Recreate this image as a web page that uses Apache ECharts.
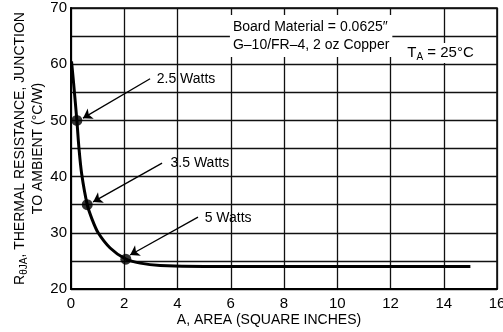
<!DOCTYPE html>
<html><head><meta charset="utf-8">
<script src="https://cdn.jsdelivr.net/npm/echarts@6/dist/echarts.min.js"></script>
<style>html,body{margin:0;padding:0;background:#fff}#c{width:503px;height:332px}</style>
</head><body><div id="c"></div>
<script>
// Curve: thermal resistance vs copper area
const areaX = [0.02, 0.1, 0.22, 0.3, 0.4, 0.61, 0.8, 1.02, 1.47, 2.06, 2.6, 3.35, 5, 8, 12, 15];
const rthY  = [60.5, 56.5, 50, 45, 40.5, 35, 32.3, 30, 27.3, 25.3, 24.6, 24.2, 24, 24, 24, 24];
// Marked points
const pointX = [0.22, 0.61, 2.06];
const pointY = [50, 35, 25.3];
const pointLabels = ['2.5 Watts', '3.5 Watts', '5 Watts'];
// Label anchor (left edge, middle) and arrow start positions in data units
const labelX = [3.2, 3.72, 5.0];
const labelY = [57.4, 42.4, 32.6];
const arrowStartX = [2.97, 3.42, 4.77];
const arrowStartY = [57.4, 42.4, 32.8];
const arrowEndX = [0.45, 0.83, 2.22];
const arrowEndY = [50.4, 35.5, 26.05];
// Axis ticks
const xTicks = [0, 2, 4, 6, 8, 10, 12, 14, 16];
const yTicks = [20, 30, 40, 50, 60, 70];

const FONT = '"Liberation Sans", Arial, sans-serif';
const chart = echarts.init(document.getElementById('c'), null, {renderer: 'canvas'});

const curveData = areaX.map((x, i) => [x, rthY[i]]);
const pointData = pointX.map((x, i) => [x, pointY[i]]);

const arrowLines = arrowStartX.map((x, i) => [
  {coord: [x, arrowStartY[i]]},
  {coord: [arrowEndX[i], arrowEndY[i]]}
]);

const textPoints = pointLabels.map((t, i) => ({
  coord: [labelX[i], labelY[i]],
  label: {formatter: t}
}));
textPoints.push({
  coord: [5.95, 65],
  label: {
    formatter: 'Board Material = 0.0625″\nG–10/FR–4, 2 oz Copper',
    backgroundColor: '#fff', padding: [3, 3, 3, 3], lineHeight: 18
  }
});
textPoints.push({
  coord: [12.5, 62],
  label: {
    formatter: '{m|T}{s|A}{m| = 25°C}',
    backgroundColor: '#fff', padding: [1, 3, 1, 3],
    rich: {
      m: {fontFamily: FONT, fontSize: 15, color: '#000', lineHeight: 18, verticalAlign: 'middle'},
      s: {fontFamily: FONT, fontSize: 10, color: '#000', lineHeight: 18, verticalAlign: 'bottom'}
    }
  }
});

chart.setOption({
  animation: false,
  backgroundColor: '#fff',
  grid: {left: 71, right: 6, top: 8, bottom: 43, outerBoundsMode: 'none', containLabel: false,
    show: true, borderColor: '#000', borderWidth: 1.5, backgroundColor: 'transparent'},
  xAxis: {
    type: 'value', min: 0, max: 16, interval: 2,
    name: 'A, AREA (SQUARE INCHES)', nameLocation: 'middle', nameGap: 24, nameMoveOverlap: false,
    nameTextStyle: {fontFamily: FONT, fontSize: 14, color: '#000', padding: [0, 30, 0, 0]},
    axisLine: {show: true, lineStyle: {color: '#000', width: 2}},
    axisTick: {show: false},
    axisLabel: {fontFamily: FONT, fontSize: 15, color: '#000', margin: 7,
      formatter: v => xTicks.includes(v) ? String(v) : ''},
    splitLine: {show: true, lineStyle: {color: '#111', width: 1.3}}
  },
  yAxis: {
    type: 'value', min: 20, max: 70, interval: 5,
    name: '{m|R}{s|θJA}{m|, THERMAL RESISTANCE, JUNCTION}\n{m|TO AMBIENT (°C/W)}',
    nameLocation: 'middle', nameGap: 24, nameRotate: 90, nameMoveOverlap: false,
    nameTextStyle: {
      fontFamily: FONT, fontSize: 14, color: '#000', lineHeight: 18, align: 'center',
      rich: {
        m: {fontFamily: FONT, fontSize: 14, color: '#000', lineHeight: 18, verticalAlign: 'middle'},
        s: {fontFamily: FONT, fontSize: 10, color: '#000', lineHeight: 18, verticalAlign: 'bottom'}
      }
    },
    axisLine: {show: true, lineStyle: {color: '#000', width: 2}},
    axisTick: {show: false},
    axisLabel: {fontFamily: FONT, fontSize: 15, color: '#000', margin: 4,
      formatter: v => yTicks.includes(v) ? String(v) : ''},
    splitLine: {show: true, lineStyle: {color: '#111', width: 1.3}}
  },
  series: [
    {
      type: 'line', data: curveData, smooth: 0.3,
      symbol: 'none', lineStyle: {color: '#000', width: 3}, z: 3
    },
    {
      type: 'scatter', data: pointData, symbol: 'circle', symbolSize: 11,
      itemStyle: {color: '#000'}, z: 4,
      markLine: {
        silent: true, symbol: ['none', 'arrow'], symbolSize: 9,
        label: {show: false},
        lineStyle: {color: '#000', width: 1.3, type: 'solid'},
        data: arrowLines
      },
      markPoint: {
        silent: true, symbol: 'circle', symbolSize: 1,
        itemStyle: {color: 'rgba(0,0,0,0)'},
        label: {show: true, position: 'right', distance: 0, fontFamily: FONT, fontSize: 14, color: '#000'},
        data: textPoints
      }
    }
  ]
});
</script></body></html>
